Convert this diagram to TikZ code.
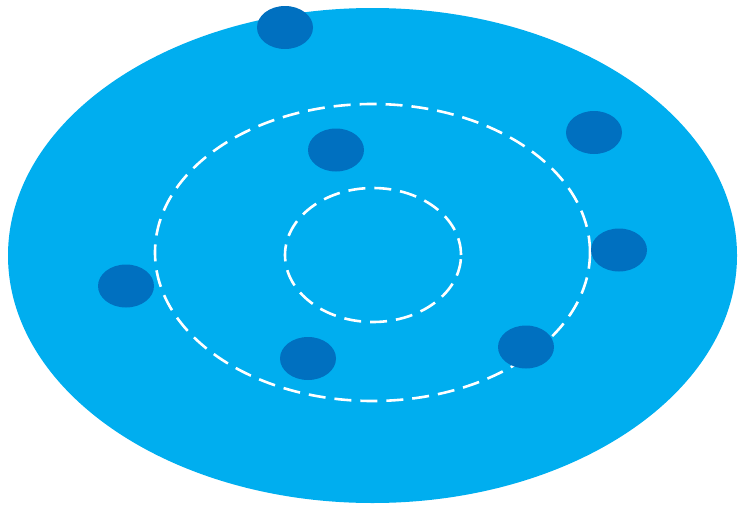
\documentclass[tikz,border=0pt]{standalone}
\usetikzlibrary{shapes.geometric}
\definecolor{disc}{RGB}{0,174,239}
\definecolor{dot}{RGB}{0,112,192}
\begin{document}
\begin{tikzpicture}[x=1pt,y=-1pt,
  ring/.style={ellipse,draw=white,line width=2.6pt,dash pattern=on 17pt off 9pt,inner sep=0pt},
  dotnode/.style={ellipse,fill=dot,draw=none,inner sep=0pt,minimum width=56pt,minimum height=43pt}]
\useasboundingbox (0,0) rectangle (738,506);
\node[ellipse,fill=disc,draw=none,inner sep=0pt,minimum width=729pt,minimum height=495pt] (disc) at (372.5,255.5) {};
\node[ring,minimum width=435pt,minimum height=297pt] (outer) at (372.5,252.5) {};
\node[ring,minimum width=176pt,minimum height=134pt] (inner) at (373,255) {};
\node[dotnode] (d1) at (285,27.5) {};
\node[dotnode] (d2) at (594,132.5) {};
\node[dotnode] (d3) at (336,150) {};
\node[dotnode] (d4) at (619,250) {};
\node[dotnode] (d5) at (126,286) {};
\node[dotnode] (d6) at (308,358.5) {};
\node[dotnode] (d7) at (526,347) {};
\end{tikzpicture}
\end{document}
